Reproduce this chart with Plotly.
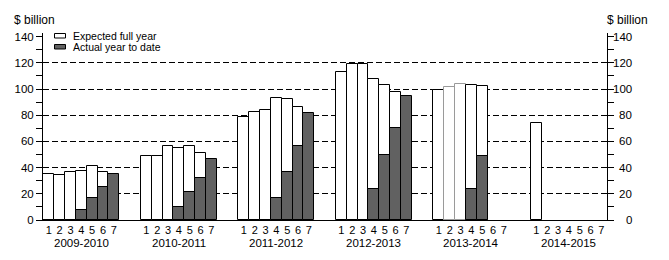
import plotly.graph_objects as go

# ---------------- data ----------------
groups = ["2009-2010", "2010-2011", "2011-2012", "2012-2013", "2013-2014", "2014-2015"]
points = ["1", "2", "3", "4", "5", "6", "7"]

expected_2009_10 = [35.0, 34.3, 36.6, 37.4, 41.0, 36.4, None]
actual_2009_10 = [None, None, None, 7.6, 16.5, 25.0, 35.0]
expected_2010_11 = [48.6, 48.6, 56.2, 54.7, 56.2, 50.9, None]
actual_2010_11 = [None, None, None, 9.7, 21.1, 31.8, 46.3]
expected_2011_12 = [78.4, 82.2, 83.7, 92.9, 92.1, 86.0, None]
actual_2011_12 = [None, None, None, 16.5, 36.4, 56.2, 81.4]
expected_2012_13 = [112.7, 118.8, 118.8, 107.4, 102.8, 97.5, None]
actual_2012_13 = [None, None, None, 23.4, 49.4, 70.0, 94.4]
expected_2013_14 = [99.2, 101.3, 103.6, 103.0, 102.3, None, None]
actual_2013_14 = [None, None, None, 23.4, 48.6, None, None]
expected_2014_15 = [74.0, None, None, None, None, None, None]
actual_2014_15 = [None, None, None, None, None, None, None]

expected_all = [expected_2009_10, expected_2010_11, expected_2011_12,
                expected_2012_13, expected_2013_14, expected_2014_15]
actual_all = [actual_2009_10, actual_2010_11, actual_2011_12,
              actual_2012_13, actual_2013_14, actual_2014_15]

y_ticks = [0, 20, 40, 60, 80, 100, 120, 140]
grid_vals = [20, 40, 60, 80, 100, 120]
minor_vals = [10, 30, 50, 70, 90, 110, 130]
unit_label = "$ billion"
legend_labels = ["Expected full year", "Actual year to date"]

# ---------------- layout geometry ----------------
W, H = 669, 260
ML, MR, MT, MB = 43, 62, 33, 40
PW, PH = W - ML - MR, H - MT - MB
SLOT = 9  # 7 bars + 2 gap
YMAX = PH / 1.31
FONT = "Liberation Sans, Arial, sans-serif"
DARK = "#616161"


def px_x(px):
    return (px - ML) / PW


def px_y(py):
    return (H - MB - py) / PH


xs, exp_vals, act_vals, tick_x, tick_t, line_cols = [], [], [], [], [], []
for g, grp in enumerate(groups):
    for k, p in enumerate(points):
        x = g * SLOT + k + 0.5
        xs.append(x)
        exp_vals.append(expected_all[g][k])
        act_vals.append(actual_all[g][k])
        tick_x.append(x)
        tick_t.append(p)
        line_cols.append("#9a9a9a" if (grp == "2013-2014" and k in (1, 2)) else "black")

# keep only real values so that no empty bars are drawn
exp_x = [x for x, v in zip(xs, exp_vals) if v is not None]
exp_y = [v for v in exp_vals if v is not None]
exp_lc = [c for c, v in zip(line_cols, exp_vals) if v is not None]
act_x = [x for x, v in zip(xs, act_vals) if v is not None]
act_y = [v for v in act_vals if v is not None]

fig = go.Figure()
fig.add_trace(go.Bar(x=exp_x, y=exp_y, width=1, name=legend_labels[0],
                     marker=dict(color="white", line=dict(color=exp_lc, width=1)),
                     showlegend=False))
fig.add_trace(go.Bar(x=act_x, y=act_y, width=1, name=legend_labels[1],
                     marker=dict(color=DARK, line=dict(color="black", width=1)),
                     showlegend=False))

fig.update_layout(
    width=W, height=H,
    margin=dict(l=ML, r=MR, t=MT, b=MB, pad=0),
    paper_bgcolor="white", plot_bgcolor="white",
    barmode="overlay", bargap=0,
    font=dict(family=FONT, size=12, color="black"),
    xaxis=dict(range=[-0.04, 52.02], tickmode="array", tickvals=tick_x, ticktext=tick_t,
               ticks="", showgrid=False, zeroline=False, showline=True,
               linecolor="black", linewidth=1, tickfont=dict(size=11),
               fixedrange=True),
    yaxis=dict(range=[0, YMAX], tickmode="array", tickvals=y_ticks,
               ticks="outside", ticklen=6, tickcolor="black", tickwidth=1,
               showline=True, linecolor="black", linewidth=1,
               showgrid=False, zeroline=False, tickfont=dict(size=11.5),
               minor=dict(tickmode="array", tickvals=minor_vals, ticks="outside",
                          ticklen=6, tickcolor="black", tickwidth=1, showgrid=False)),
    yaxis2=dict(range=[0, YMAX], overlaying="y", side="right", anchor="x",
                tickmode="array", tickvals=y_ticks, showticklabels=False,
                ticks="outside", ticklen=6, tickcolor="black", tickwidth=1,
                showline=True, linecolor="black", linewidth=1,
                showgrid=False, zeroline=False,
                minor=dict(tickmode="array", tickvals=minor_vals, ticks="outside",
                           ticklen=6, tickcolor="black", tickwidth=1, showgrid=False)),
    yaxis3=dict(range=[0, YMAX], overlaying="y", side="left", anchor="x",
                tickmode="array", tickvals=grid_vals, showticklabels=False,
                ticks="", showline=False, zeroline=False,
                showgrid=True, gridcolor="black", gridwidth=1, griddash="6px,3px"),
)

# empty traces so the overlay axes are created
fig.add_trace(go.Scatter(x=[None], y=[None], yaxis="y2", showlegend=False, hoverinfo="skip"))
fig.add_trace(go.Scatter(x=[None], y=[None], yaxis="y3", showlegend=False, hoverinfo="skip"))

ann = []
# group (year) labels
for g, grp in enumerate(groups):
    ann.append(dict(x=g * SLOT + 3.5, y=px_y(243), xref="x", yref="paper",
                    text=grp, showarrow=False, xanchor="center", yanchor="middle",
                    font=dict(size=11.5)))
# right-hand tick labels (right aligned)
for v in y_ticks:
    ann.append(dict(x=px_x(633.5), y=v, xref="paper", yref="y", text=str(v),
                    showarrow=False, xanchor="right", yanchor="middle",
                    font=dict(size=11.5)))
# unit labels
ann.append(dict(x=px_x(12), y=px_y(20), xref="paper", yref="paper", text=unit_label,
                showarrow=False, xanchor="left", yanchor="middle", font=dict(size=12)))
ann.append(dict(x=px_x(605), y=px_y(20), xref="paper", yref="paper", text=unit_label,
                showarrow=False, xanchor="left", yanchor="middle", font=dict(size=12)))
# legend text
ann.append(dict(x=px_x(71), y=px_y(35.5), xref="paper", yref="paper", text=legend_labels[0],
                showarrow=False, xanchor="left", yanchor="middle", font=dict(size=10.5)))
ann.append(dict(x=px_x(71), y=px_y(47), xref="paper", yref="paper", text=legend_labels[1],
                showarrow=False, xanchor="left", yanchor="middle", font=dict(size=10.5)))
fig.update_layout(annotations=ann)

# legend swatches
fig.add_shape(type="rect", xref="paper", yref="paper",
              x0=px_x(54.5), x1=px_x(65.5), y0=px_y(38), y1=px_y(33.5),
              fillcolor="white", line=dict(color="black", width=1))
fig.add_shape(type="rect", xref="paper", yref="paper",
              x0=px_x(54.5), x1=px_x(65.5), y0=px_y(49), y1=px_y(44.5),
              fillcolor=DARK, line=dict(color="black", width=1))

fig.write_html("out.html")
